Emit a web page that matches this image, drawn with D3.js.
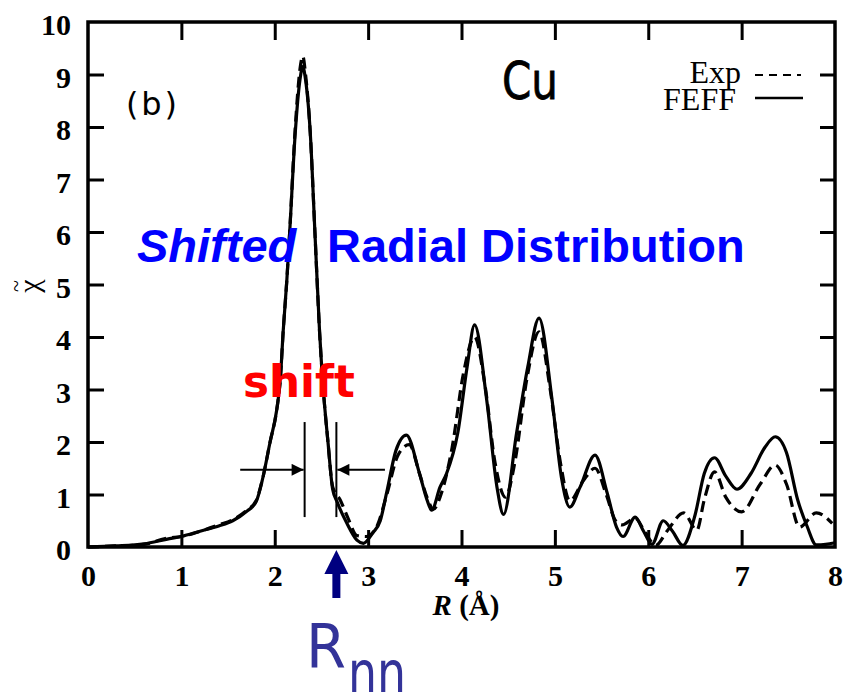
<!DOCTYPE html>
<html>
<head>
<meta charset="utf-8">
<script src="https://cdn.jsdelivr.net/npm/d3@7"></script>
<style>
  body { margin: 0; background: #fff; }
  svg { display: block; }
  .tick text { font-family: "Liberation Serif", "DejaVu Serif", serif; font-weight: bold; font-size: 30px; fill: #000; }
  .tick line { stroke: #000; stroke-width: 3; }
</style>
</head>
<body>
<div id="chart"></div>
<script>
// FEFF calculation (solid) : [R, chi]
const feff = [
  [0, 0], [0.3, 0.02], [0.6, 0.06], [0.85, 0.15], [1.0, 0.2], [1.2, 0.3], [1.4, 0.4],
  [1.55, 0.5], [1.7, 0.68], [1.8, 0.86], [1.87, 1.3], [1.95, 2.0], [2.02, 2.6], [2.06, 3.2],
  [2.09, 4.1], [2.13, 5.1], [2.16, 6.0], [2.22, 7.9], [2.27, 8.9], [2.30, 9.15], [2.33, 8.9],
  [2.38, 7.9], [2.43, 6.0], [2.48, 4.1], [2.52, 3.0], [2.57, 2.0], [2.62, 1.1], [2.67, 0.85],
  [2.77, 0.46], [2.88, 0.13], [2.95, 0.07], [3.05, 0.27], [3.13, 0.5], [3.2, 1.05], [3.3, 1.85],
  [3.41, 2.13], [3.55, 1.4], [3.63, 0.9], [3.68, 0.7], [3.77, 1.14], [3.84, 1.4], [3.96, 2.17],
  [4.06, 3.43], [4.14, 4.23], [4.27, 2.8], [4.38, 1.14], [4.45, 0.62], [4.59, 2.17], [4.71, 3.43],
  [4.83, 4.36], [4.97, 2.8], [5.07, 1.33], [5.16, 0.76], [5.27, 1.14], [5.43, 1.75], [5.56, 1.03],
  [5.66, 0.38], [5.73, 0.2], [5.86, 0.57], [5.95, 0.3], [6.04, 0.05], [6.16, 0.5], [6.26, 0.3],
  [6.37, 0.03], [6.5, 0.6], [6.6, 1.4], [6.71, 1.7], [6.83, 1.35], [6.95, 1.1], [7.1, 1.4],
  [7.25, 1.9], [7.36, 2.1], [7.48, 1.8], [7.6, 0.9], [7.7, 0.4], [7.8, 0.04], [7.9, 0.05], [8.0, 0.08]
];

// experiment (dashed) : [R, chi]
const expt = [
  [0, 0], [0.3, 0.02], [0.6, 0.05], [0.85, 0.17], [1.0, 0.2], [1.2, 0.3], [1.4, 0.42],
  [1.55, 0.52], [1.7, 0.7], [1.8, 0.88], [1.87, 1.3], [1.95, 2.0], [2.02, 2.6], [2.06, 3.2],
  [2.09, 4.1], [2.13, 5.1], [2.16, 6.0], [2.22, 8.0], [2.27, 9.1], [2.30, 9.35], [2.33, 9.0],
  [2.38, 7.9], [2.43, 6.0], [2.48, 4.1], [2.52, 3.0], [2.57, 2.0], [2.62, 1.15], [2.7, 0.9],
  [2.78, 0.57], [2.88, 0.22], [2.98, 0.2], [3.09, 0.38], [3.2, 1.0], [3.32, 1.75], [3.44, 1.95],
  [3.55, 1.4], [3.63, 0.95], [3.7, 0.72], [3.78, 1.0], [3.9, 1.9], [4.02, 3.3], [4.14, 4.0],
  [4.25, 3.1], [4.36, 1.6], [4.47, 0.95], [4.57, 1.6], [4.7, 3.2], [4.83, 4.1], [4.95, 3.0],
  [5.06, 1.6], [5.16, 0.88], [5.3, 1.25], [5.43, 1.5], [5.55, 1.0], [5.65, 0.5], [5.72, 0.42],
  [5.86, 0.55], [5.96, 0.3], [6.08, 0.03], [6.2, 0.3], [6.38, 0.65], [6.52, 0.32], [6.6, 0.9],
  [6.71, 1.43], [6.83, 0.95], [7.0, 0.67], [7.2, 1.2], [7.36, 1.56], [7.48, 1.2], [7.62, 0.38],
  [7.8, 0.65], [7.97, 0.45]
];

const xTicks = [0, 1, 2, 3, 4, 5, 6, 7, 8];
const yTicks = [0, 1, 2, 3, 4, 5, 6, 7, 8, 9, 10];

// annotation positions in data units
const shiftLeft = 2.32, shiftRight = 2.66, rnn = 2.66;

const W = 844, H = 692;
const svg = d3.select("#chart").append("svg")
  .attr("width", W)
  .attr("height", H);

const x = d3.scaleLinear().domain([0, 8]).range([88, 835]);
const y = d3.scaleLinear().domain([0, 10]).range([547, 22]);

const defs = svg.append("defs");
defs.append("marker")
  .attr("id", "head")
  .attr("viewBox", "0 0 10 10")
  .attr("refX", 10).attr("refY", 5)
  .attr("markerWidth", 14).attr("markerHeight", 12)
  .attr("markerUnits", "userSpaceOnUse")
  .attr("orient", "auto")
  .append("path")
  .attr("d", "M0,0 L10,5 L0,10 Z")
  .attr("fill", "#000");

// axes, ticks pointing inwards
const xAxisB = svg.append("g")
  .attr("transform", `translate(0,${y(0)})`)
  .call(d3.axisBottom(x).tickValues(xTicks).tickSize(-17).tickPadding(18));
const yAxisL = svg.append("g")
  .attr("transform", `translate(${x(0)},0)`)
  .call(d3.axisLeft(y).tickValues(yTicks).tickSize(-16).tickPadding(17));
svg.append("g")
  .attr("transform", `translate(0,${y(10)})`)
  .call(d3.axisTop(x).tickValues(xTicks.slice(1, -1)).tickSize(-18).tickFormat(""));
svg.append("g")
  .attr("transform", `translate(${x(8)},0)`)
  .call(d3.axisRight(y).tickValues(yTicks.slice(1, -1)).tickSize(-15).tickFormat(""));

svg.selectAll(".domain").remove();
yAxisL.selectAll(".tick text").attr("dy", "0.42em");
yAxisL.selectAll(".tick line").filter(d => d === 0 || d === 10).remove();
xAxisB.selectAll(".tick line").filter(d => d === 0 || d === 8).remove();

// frame
svg.append("rect")
  .attr("x", x(0)).attr("y", y(10))
  .attr("width", x(8) - x(0)).attr("height", y(0) - y(10))
  .attr("fill", "none")
  .attr("stroke", "#000")
  .attr("stroke-width", 3.5);

const line = d3.line()
  .x(d => x(d[0]))
  .y(d => y(d[1]))
  .curve(d3.curveMonotoneX);

svg.append("path")
  .datum(expt)
  .attr("d", line)
  .attr("fill", "none")
  .attr("stroke", "#000")
  .attr("stroke-width", 3.2)
  .attr("stroke-dasharray", "11,6");

svg.append("path")
  .datum(feff)
  .attr("d", line)
  .attr("fill", "none")
  .attr("stroke", "#000")
  .attr("stroke-width", 3.2);

// axis titles
svg.append("text")
  .attr("x", 466).attr("y", 615)
  .attr("text-anchor", "middle")
  .attr("font-family", "Liberation Serif, serif")
  .attr("font-size", 29)
  .attr("font-weight", "bold")
  .html('<tspan font-style="italic">R</tspan> (Å)');

const chi = svg.append("g")
  .attr("transform", "translate(31,286) rotate(-90)")
  .attr("font-family", "Liberation Serif, serif");
chi.append("text")
  .attr("text-anchor", "middle")
  .attr("y", 8)
  .attr("font-size", 30)
  .text("χ");
chi.append("text")
  .attr("text-anchor", "middle")
  .attr("y", -8)
  .attr("font-size", 22)
  .text("~");

// labels
svg.append("text")
  .attr("x", 126).attr("y", 115)
  .attr("font-family", "DejaVu Sans, sans-serif")
  .attr("font-size", 32)
  .attr("textLength", 51)
  .attr("lengthAdjust", "spacing")
  .text("(b)");

svg.append("text")
  .attr("x", 502).attr("y", 99)
  .attr("font-family", "DejaVu Sans, sans-serif")
  .attr("font-size", 52)
  .attr("stroke", "#000")
  .attr("stroke-width", 0.8)
  .attr("textLength", 56)
  .attr("lengthAdjust", "spacingAndGlyphs")
  .text("Cu");

// legend
const legend = svg.append("g").attr("font-family", "Liberation Serif, serif").attr("font-size", 32);
legend.append("text").attr("x", 741).attr("y", 83).attr("text-anchor", "end").text("Exp");
legend.append("text").attr("x", 736).attr("y", 110).attr("text-anchor", "end").text("FEFF");
legend.append("line")
  .attr("x1", 755).attr("x2", 801).attr("y1", 75).attr("y2", 75)
  .attr("stroke", "#000").attr("stroke-width", 2.2).attr("stroke-dasharray", "8,6");
legend.append("line")
  .attr("x1", 755).attr("x2", 803).attr("y1", 98).attr("y2", 98)
  .attr("stroke", "#000").attr("stroke-width", 2.5);

// title-like annotation
const sh = svg.append("text")
  .attr("y", 262)
  .attr("font-family", "Liberation Sans, Arial, sans-serif")
  .attr("font-weight", "bold")
  .attr("font-size", 47)
  .attr("fill", "#0000ff");
sh.append("tspan").attr("x", 137).attr("font-style", "italic").text("Shifted");
sh.append("tspan").attr("x", 327).text("Radial Distribution");

svg.append("text")
  .attr("x", 243).attr("y", 397)
  .attr("font-family", "DejaVu Sans, sans-serif")
  .attr("font-weight", "bold")
  .attr("font-size", 44)
  .attr("textLength", 112)
  .attr("lengthAdjust", "spacingAndGlyphs")
  .attr("fill", "#ff0000")
  .text("shift");

// shift markers
const yTop = 2.38, yBot = 0.57, yArr = 1.47;
[shiftLeft, shiftRight].forEach(v => {
  svg.append("line")
    .attr("x1", x(v)).attr("x2", x(v))
    .attr("y1", y(yTop)).attr("y2", y(yBot))
    .attr("stroke", "#000").attr("stroke-width", 2);
});
svg.append("line")
  .attr("x1", x(1.63)).attr("x2", x(shiftLeft) - 1)
  .attr("y1", y(yArr)).attr("y2", y(yArr))
  .attr("stroke", "#000").attr("stroke-width", 2)
  .attr("marker-end", "url(#head)");
svg.append("line")
  .attr("x1", x(3.18)).attr("x2", x(shiftRight) + 1)
  .attr("y1", y(yArr)).attr("y2", y(yArr))
  .attr("stroke", "#000").attr("stroke-width", 2)
  .attr("marker-end", "url(#head)");

// R_nn arrow
const ax = x(rnn), atip = y(0) + 3;
svg.append("path")
  .attr("d", `M${ax},${atip} L${ax + 12},${atip + 24} L${ax + 4},${atip + 24} L${ax + 4},${atip + 48}
              L${ax - 4},${atip + 48} L${ax - 4},${atip + 24} L${ax - 12},${atip + 24} Z`)
  .attr("fill", "#000080");

const rn = svg.append("text")
  .attr("font-family", "DejaVu Sans, sans-serif")
  .attr("font-size", 60)
  .attr("fill", "#333399");
rn.append("tspan").attr("x", 306).attr("y", 668)
  .attr("textLength", 40).attr("lengthAdjust", "spacingAndGlyphs").text("R");
rn.append("tspan").attr("x", 348).attr("y", 694)
  .attr("textLength", 58).attr("lengthAdjust", "spacingAndGlyphs").text("nn");
</script>
</body>
</html>
